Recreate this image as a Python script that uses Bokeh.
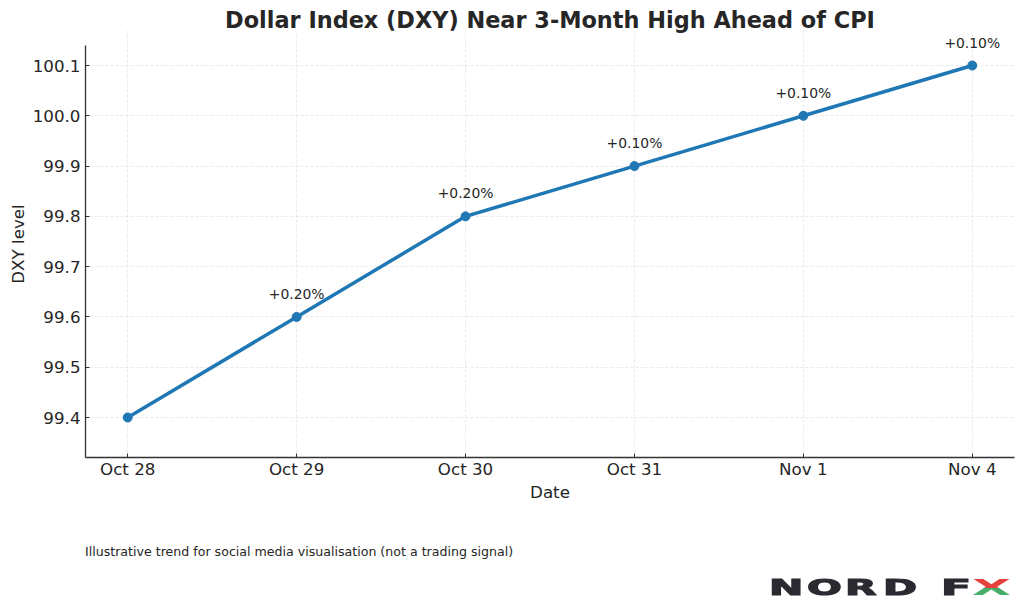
from bokeh.plotting import figure
from bokeh.models import Range1d, FixedTicker, NumeralTickFormatter, ColumnDataSource, Div
from bokeh.layouts import column
from bokeh.embed import file_html
from bokeh.resources import INLINE
from bokeh.core.properties import value

dates = ["Oct 28", "Oct 29", "Oct 30", "Oct 31", "Nov 1", "Nov 4"]
dxy = [99.4, 99.6, 99.8, 99.9, 100.0, 100.1]
change_labels = ["", "+0.20%", "+0.20%", "+0.10%", "+0.10%", "+0.10%"]
y_ticks = [99.4, 99.5, 99.6, 99.7, 99.8, 99.9, 100.0, 100.1]
y_axis_span = (99.3205, 100.1398)
footnote = "Illustrative trend for social media visualisation (not a trading signal)"

FONT = "DejaVu Sans"
TXT = "#262626"
BLUE = "#1f77b4"

idx = list(range(len(dates)))
src = ColumnDataSource(dict(x=idx, y=dxy, lab=change_labels))

p = figure(width=1016, height=515, output_backend="svg", toolbar_location=None,
           x_range=Range1d(-0.25, len(dates) - 0.75), y_range=Range1d(99.3205, 100.1696),
           min_border_left=85, min_border_right=2, min_border_top=30, min_border_bottom=58,
           background_fill_color="white", border_fill_color="white")
p.outline_line_color = None

p.title.text = "Dollar Index (DXY) Near 3-Month High Ahead of CPI"
p.title.text_font = FONT
p.title.text_font_size = "22.4px"
p.title.text_font_style = "bold"
p.title.text_color = TXT
p.title.align = "center"
p.title.offset = 0
p.title.standoff = -4

# axes
p.xaxis.ticker = FixedTicker(ticks=idx)
p.xaxis.major_label_overrides = {i: d for i, d in zip(idx, dates)}
p.yaxis.ticker = FixedTicker(ticks=y_ticks)
p.yaxis.formatter = NumeralTickFormatter(format="0.0")
p.yaxis.bounds = y_axis_span
for ax in (p.xaxis[0], p.yaxis[0]):
    ax.axis_line_color = "#333333"
    ax.axis_line_width = 1.3
    ax.major_tick_line_color = "#333333"
    ax.major_tick_in = 4
    ax.major_tick_out = 0
    ax.minor_tick_line_color = None
    ax.major_label_text_font = FONT
    ax.major_label_text_font_size = "16.7px"
    ax.major_label_text_color = TXT
    ax.axis_label_text_font = FONT
    ax.axis_label_text_font_size = "16.7px"
    ax.axis_label_text_font_style = "normal"
    ax.axis_label_text_color = TXT
p.xaxis.axis_label = "Date"
p.yaxis.axis_label = "DXY level"
p.xaxis.major_label_standoff = 1
p.xaxis.axis_label_standoff = 0
p.yaxis.major_label_standoff = 5
p.yaxis.axis_label_standoff = 2

p.grid.grid_line_color = "#d9d9d9"
p.grid.grid_line_alpha = 0.7
p.grid.grid_line_dash = "3 2"
p.grid.grid_line_width = 0.8

p.line("x", "y", source=src, line_color=BLUE, line_width=3.5)
p.scatter("x", "y", source=src, size=9, fill_color=BLUE, line_color=BLUE)
p.text("x", "y", text="lab", source=src, text_align="center", text_baseline="alphabetic",
       y_offset=-23, text_font=value(FONT), text_font_size="13.9px", text_color=TXT)

# footer: footnote + logo
DARK = "#2b2a30"
logo_letters = ["N", "O", "R", "D", "F"]
logo_left = [769, 807, 845, 883, 941]
logo_scale = [2.0, 2.0, 2.0, 2.0, 2.15]
base = ("position:absolute;top:63px;font-size:20.5px;line-height:1;font-weight:bold;"
        "transform-origin:0 0;white-space:nowrap;")
letters_html = "".join(
    f'<span style="{base}left:{lx}px;color:{DARK};-webkit-text-stroke:1px {DARK};'
    f'transform:scaleX({sc});">{ch}</span>'
    for ch, lx, sc in zip(logo_letters, logo_left, logo_scale))
x_html = (f'<span style="position:absolute;top:62px;left:972px;font-size:21.5px;line-height:1;'
          f'font-weight:bold;transform-origin:0 0;transform:scaleX(2.35);color:transparent;'
          f'background:linear-gradient(to bottom,#e5403c 0%,#e5403c 50%,#48ad69 50%,#48ad69 100%);'
          f'-webkit-background-clip:text;background-clip:text;">X</span>')
html = (f'<div style="position:relative;width:1016px;height:90px;font-family:\'{FONT}\';">'
        f'<span style="position:absolute;left:85px;top:31px;font-size:12.6px;line-height:1;'
        f'color:{TXT};white-space:nowrap;">{footnote}</span>'
        f'{letters_html}{x_html}</div>')
footer = Div(text=html, width=1016, height=90, margin=(0, 0, 0, 0))

layout = column(p, footer, spacing=0)
open("out.html", "w").write(file_html(layout, INLINE))
